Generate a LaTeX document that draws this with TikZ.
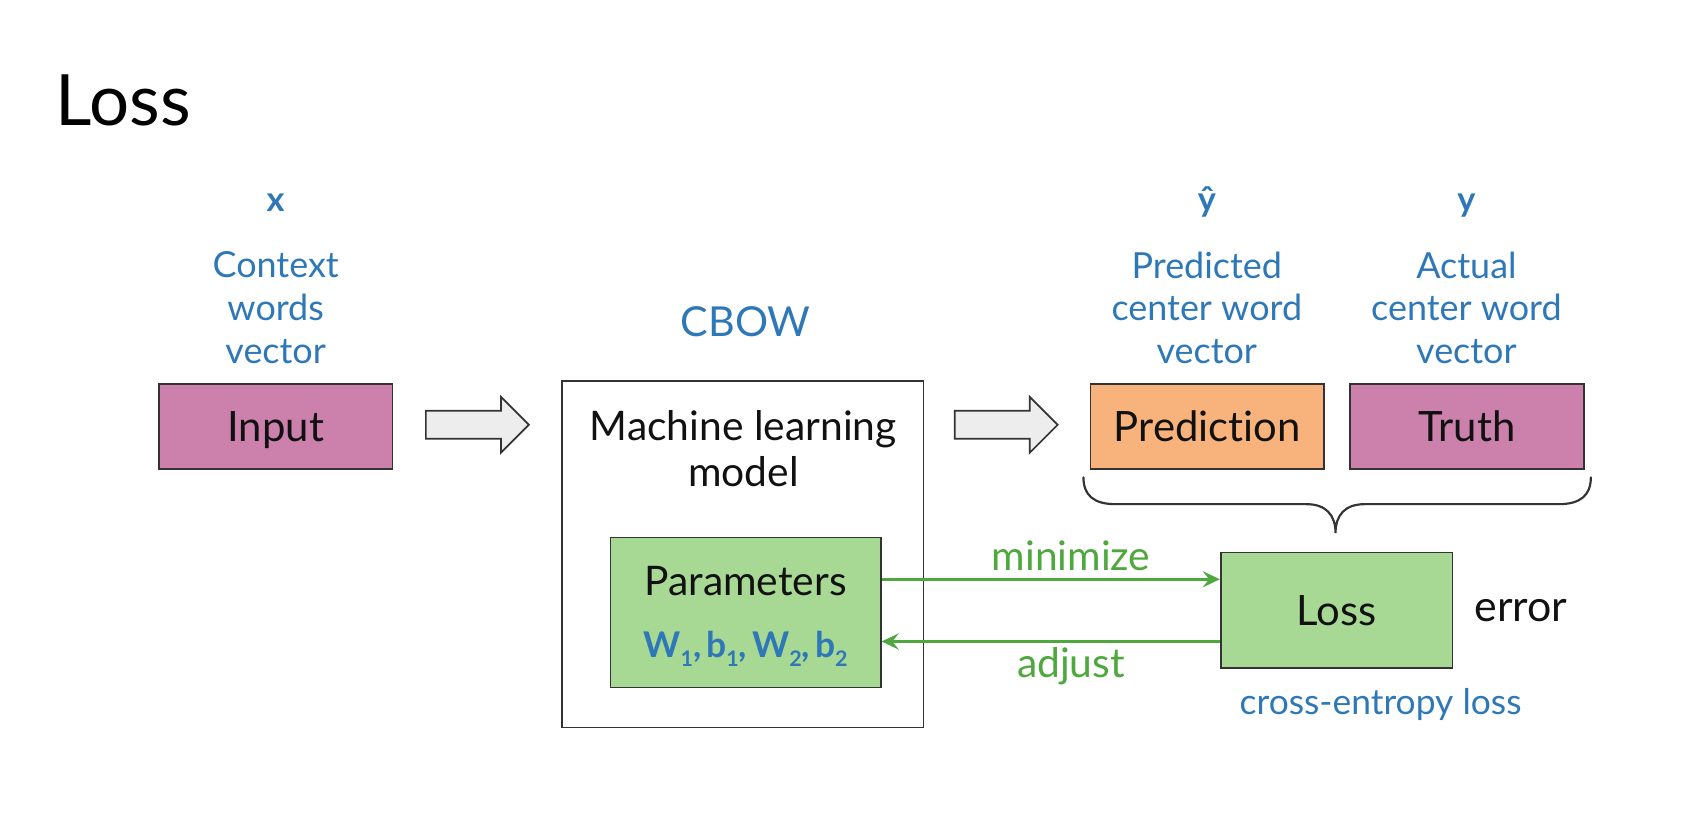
\documentclass[tikz,border=0pt]{standalone}
\usepackage{fontspec}
\setmainfont{Lato}[Ligatures=NoCommon]
\usetikzlibrary{arrows.meta}
\definecolor{lblue}{HTML}{2F78B8}
\definecolor{lgreen}{HTML}{4EA83D}
\definecolor{gfill}{HTML}{A8D994}
\definecolor{mfill}{HTML}{CC80AC}
\definecolor{ofill}{HTML}{F8B37D}
\definecolor{afill}{HTML}{EDEDED}
\definecolor{edge}{HTML}{333333}
\definecolor{ink}{HTML}{111111}
\newcommand{\mysub}[1]{\raisebox{-8pt}{\fontsize{20}{20}\selectfont #1}}
\begin{document}
\begin{tikzpicture}[x=1pt,y=-1pt,
  box/.style={draw=edge, line width=1.6pt, minimum width=218pt, minimum height=79pt, inner sep=0pt, text=ink, text height=28pt, text depth=0pt, font=\fontsize{39}{46}\selectfont},
  lbl/.style={text=lblue, align=center, font=\fontsize{33.5}{40}\selectfont},
  sym/.style={text=lblue, anchor=base, font=\fontsize{32}{40}\selectfont\bfseries},
  blk/.style={text=ink, align=center, font=\fontsize{38}{43}\selectfont},
  garrow/.style={draw=lgreen, line width=2.4pt, -{Stealth[length=16pt,width=15pt,inset=6pt]}},
  glbl/.style={text=lgreen, font=\fontsize{38}{44}\selectfont},
  barrow/.style={draw=edge, line width=1.6pt, fill=afill, line join=miter},
  brace/.style={draw=edge, line width=2pt, line cap=round}]
\useasboundingbox (0,0) rectangle (1568,770);

% title
\node[anchor=base west, inner sep=0pt, text=black, font=\fontsize{66}{78}\selectfont] (title) at (52,117) {Loss};

% input column
\node[sym] (xs) at (257,197) {x};
\node[lbl] (xlbl) at (257,287) {Context\\words\\vector};
\node[box, fill=mfill] (input) at (257,397.5) {Input};

% block arrow 1
\draw[barrow] (397,383) -- (467,383) -- (467,370) -- (493,396) -- (467,422) -- (467,409) -- (397,409) -- cycle;

% model
\node[lbl, font=\fontsize{38.5}{44}\selectfont] (cbow) at (695,300) {CBOW};
\node[draw=edge, line width=1.4pt, minimum width=337pt, minimum height=323pt, inner sep=0pt] (model) at (692.5,516.5) {};
\node[blk] (mltext) at (693,418) {Machine learning\\model};
\node[box, fill=gfill, minimum width=252pt, minimum height=140pt] (params) at (695,571) {};
\node[blk] (ptext) at (695,542) {Parameters};
\node[text=lblue, font=\fontsize{33}{40}\selectfont\bfseries] (wb) at (695,605) {W\mysub{1},\hspace{0.14em}b\mysub{1},\hspace{0.14em}W\mysub{2},\hspace{0.14em}b\mysub{2}};

% block arrow 2
\draw[barrow] (890,383) -- (960,383) -- (960,370) -- (986,396) -- (960,422) -- (960,409) -- (890,409) -- cycle;

% prediction / truth
\node[sym] (yhat) at (1125,197) {ŷ};
\node[lbl] (plbl) at (1125,287) {Predicted\\center word\\vector};
\node[box, fill=ofill] (pred) at (1125.5,397.5) {Prediction};
\node[sym] (ys) at (1367,197) {y};
\node[lbl] (tlbl) at (1367,287) {Actual\\center word\\vector};
\node[box, fill=mfill] (truth) at (1367.5,397.5) {Truth};

% brace
\draw[brace] (1010,445) .. controls (1010,462) and (1020,470) .. (1040,470) -- (1218,470)
  .. controls (1236,470) and (1245,480) .. (1245,497)
  .. controls (1245,480) and (1254,470) .. (1272,470) -- (1453,470)
  .. controls (1473,470) and (1483,462) .. (1483,445);

% loss
\node[box, fill=gfill, minimum width=216pt, minimum height=108pt] (loss) at (1246,569) {Loss};
\node[blk, font=\fontsize{40}{46}\selectfont] (err) at (1418,569) {error};
\node[lbl, font=\fontsize{33}{38}\selectfont] (ce) at (1287,657) {cross-entropy loss};

% green arrows
\draw[garrow] ([yshift=31pt]params.east) -- ([yshift=31pt]params.east -| loss.west)
  node[glbl, pos=0.56, above=3pt] (minl) {minimize};
\draw[garrow] ([yshift=-27pt]params.east -| loss.west) -- ([yshift=-27pt]params.east)
  node[glbl, pos=0.44, below=1pt] (adjl) {adjust};
\end{tikzpicture}
\end{document}
